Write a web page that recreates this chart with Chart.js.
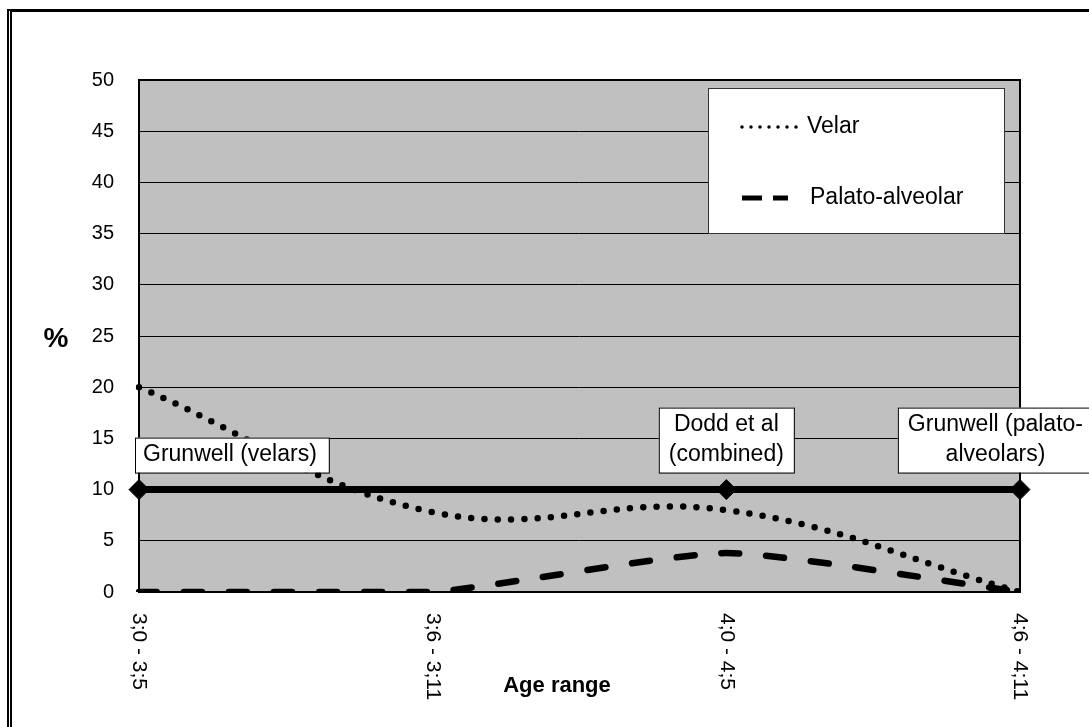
<!DOCTYPE html>
<html>
<head>
<meta charset="utf-8">
<title>Velar and palato-alveolar errors by age range</title>
<script src="https://cdn.jsdelivr.net/npm/chart.js@4.4.1/dist/chart.umd.min.js"></script>
<style>
  html, body { margin: 0; padding: 0; background: #fff; overflow: hidden; }
  #wrap { position: relative; width: 1089px; height: 727px; }
  #frame {
    position: absolute; left: 7px; top: 9px; width: 1200px; height: 900px;
    border-top: 3px solid #000; border-left: 5px double #000;
  }
  #c { position: absolute; left: 0; top: 0; }
</style>
</head>
<body>
<div id="wrap">
  <div id="frame"></div>
  <canvas id="c" width="1089" height="727"></canvas>
</div>
<script>
const categories = ["3;0 - 3;5", "3;6 - 3;11", "4;0 - 4;5", "4;6 - 4;11"];
const velar = [20, 7.8, 8, 0];
const palatoAlveolar = [0, 0, 3.8, 0];
const benchmark = [10, 10, 10, 10];
const benchmarkMarks = [true, false, true, true];
const benchmarkLabels = ["Grunwell (velars)", "", "Dodd et al\n(combined)", "Grunwell (palato-\nalveolars)"];
const yMin = 0, yMax = 50, yStep = 5;

const FONT = '"Liberation Sans", Arial, sans-serif';

// fond gris + cadre du graphique
const plotFrame = {
  id: "plotFrame",
  beforeDraw(chart) {
    const { ctx, chartArea: a } = chart;
    ctx.save();
    ctx.fillStyle = "#c0c0c0";
    ctx.fillRect(a.left, a.top, a.width, a.height);
    ctx.restore();
  },
  beforeDatasetsDraw(chart) {
    const { ctx, chartArea: a } = chart;
    ctx.save();
    ctx.strokeStyle = "#000";
    ctx.lineWidth = 2;
    ctx.strokeRect(a.left, a.top, a.width, a.height);
    ctx.restore();
  }
};

// étiquettes des repères, légende, titres
const extras = {
  id: "extras",
  afterDatasetsDraw(chart) {
    const { ctx } = chart;
    const xs = chart.scales.x, ys = chart.scales.y;
    const W = chart.width;
    ctx.save();
    ctx.font = "23px " + FONT;
    ctx.textBaseline = "middle";
    benchmarkLabels.forEach((txt, i) => {
      if (!txt) return;
      const lines = txt.split("\n");
      const tw = Math.max(...lines.map(l => ctx.measureText(l).width));
      const w = tw + 20, h = lines.length * 30 + 5;
      const px = xs.getPixelForValue(i), py = ys.getPixelForValue(benchmark[i]);
      let left;
      if (i === 0) left = px - 4;
      else left = Math.min(px, W - w / 2 + 4) - w / 2;
      const top = py - 17 - h;
      ctx.fillStyle = "#fff";
      ctx.fillRect(left, top, w, h);
      ctx.strokeStyle = "#000";
      ctx.lineWidth = 1;
      ctx.strokeRect(left + 0.5, top + 0.5, w, h);
      ctx.fillStyle = "#000";
      lines.forEach((l, k) => {
        const y = top + 2 + 15 + k * 30;
        if (i === 0) { ctx.textAlign = "left"; ctx.fillText(l, left + 8, y); }
        else { ctx.textAlign = "center"; ctx.fillText(l, left + w / 2, y); }
      });
    });

    // légende
    const lx = 708, ly = 88, lw = 296, lh = 145;
    ctx.fillStyle = "#fff";
    ctx.fillRect(lx, ly, lw, lh);
    ctx.strokeStyle = "#333";
    ctx.lineWidth = 1;
    ctx.strokeRect(lx + 0.5, ly + 0.5, lw, lh);
    const items = [
      { label: chart.data.datasets[0].label, y: 127, width: 3.5, dash: [0, 9], cap: "round", len: 55, tx: 99 },
      { label: chart.data.datasets[1].label, y: 198, width: 5, dash: [20, 11], cap: "butt", len: 46, tx: 102 }
    ];
    items.forEach(it => {
      ctx.beginPath();
      ctx.setLineDash(it.dash);
      ctx.lineCap = it.cap;
      ctx.lineWidth = it.width;
      ctx.strokeStyle = "#000";
      ctx.moveTo(lx + 34, it.y);
      ctx.lineTo(lx + 34 + it.len, it.y);
      ctx.stroke();
    });
    ctx.setLineDash([]);
    ctx.fillStyle = "#000";
    ctx.font = "23px " + FONT;
    ctx.textAlign = "left";
    items.forEach(it => ctx.fillText(it.label, lx + it.tx, it.y));
    ctx.restore();
  },
  afterDraw(chart) {
    const { ctx } = chart;
    const xs = chart.scales.x;
    ctx.save();
    ctx.fillStyle = "#000";
    ctx.font = "21px " + FONT;
    ctx.textAlign = "left";
    ctx.textBaseline = "middle";
    categories.forEach((lab, i) => {
      const x = xs.getPixelForValue(i);
      ctx.save();
      ctx.translate(x, xs.top + 21);
      ctx.rotate(Math.PI / 2);
      ctx.fillText(lab, 0, 0);
      ctx.restore();
    });
    ctx.textAlign = "center";
    ctx.font = "bold 22px " + FONT;
    ctx.fillText("Age range", 557, 686);
    ctx.font = "bold 28px " + FONT;
    ctx.fillText("%", 56, 339);
    ctx.restore();
  }
};

new Chart(document.getElementById("c"), {
  type: "line",
  data: {
    labels: categories,
    datasets: [
      {
        label: "Velar",
        data: velar,
        borderColor: "#000",
        borderWidth: 6.5,
        borderDash: [0, 13.3],
        borderCapStyle: "round",
        tension: 0.4,
        pointRadius: 0,
        fill: false
      },
      {
        label: "Palato-alveolar",
        data: palatoAlveolar,
        borderColor: "#000",
        borderWidth: 6.5,
        borderDash: [18, 27],
        borderCapStyle: "round",
        tension: 0.18,
        pointRadius: 0,
        fill: false
      },
      {
        label: "Benchmark",
        data: benchmark,
        borderColor: "#000",
        backgroundColor: "#000",
        borderWidth: 7,
        tension: 0,
        pointStyle: "rectRot",
        pointRadius: benchmarkMarks.map(m => m ? 10 : 0),
        pointBorderWidth: 1,
        clip: false,
        fill: false
      }
    ]
  },
  options: {
    responsive: false,
    animation: false,
    devicePixelRatio: 1,
    layout: { padding: { left: 0, top: 80, right: 69, bottom: 0 } },
    plugins: { legend: { display: false }, tooltip: { enabled: false } },
    scales: {
      x: {
        type: "category",
        offset: false,
        grid: { display: false },
        border: { display: false },
        ticks: { display: false },
        afterFit(scale) { scale.height = 135; }
      },
      y: {
        min: yMin,
        max: yMax,
        grid: { color: "#000", lineWidth: 1, drawTicks: false },
        border: { display: false },
        ticks: {
          stepSize: yStep,
          color: "#000",
          padding: 25,
          font: { family: FONT, size: 20 }
        },
        afterFit(scale) { scale.width = 139; }
      }
    }
  },
  plugins: [plotFrame, extras]
});
</script>
</body>
</html>
